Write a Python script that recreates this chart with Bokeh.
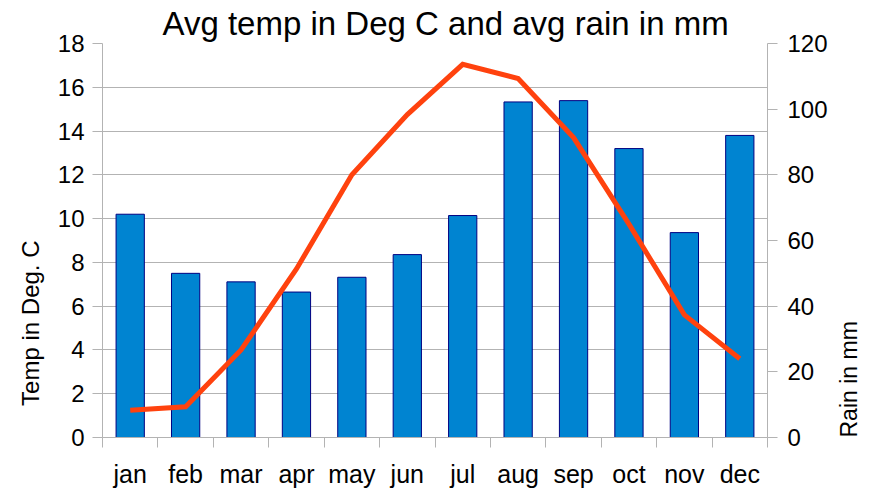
import math
from bokeh.plotting import figure
from bokeh.models import LinearAxis, Range1d, FixedTicker, Title
from bokeh.embed import file_html
from bokeh.resources import INLINE

months = ["jan", "feb", "mar", "apr", "may", "jun", "jul", "aug", "sep", "oct", "nov", "dec"]
rain_mm = [68.0, 50.0, 47.4, 44.3, 48.8, 55.7, 67.6, 102.2, 102.6, 88.0, 62.4, 92.0]
temp_c = [1.25, 1.4, 4.0, 7.7, 12.0, 14.75, 17.05, 16.4, 13.7, 9.75, 5.6, 3.6]
temp_ticks = [0, 2, 4, 6, 8, 10, 12, 14, 16, 18]
rain_ticks = [0, 20, 40, 60, 80, 100, 120]

xs = [i + 0.5 for i in range(len(months))]
bounds = list(range(len(months) + 1))

FONT = "Liberation Sans"
GRID = "#b3b3b3"

p = figure(width=877, height=492, x_range=Range1d(0, len(months)), y_range=Range1d(0, 18),
           output_backend="svg", toolbar_location=None,
           min_border_left=97, min_border_right=105, min_border_top=42, min_border_bottom=55)
p.title = None
p.add_layout(Title(text="Avg temp in Deg C and avg rain in mm", align="left",
                   text_font=FONT, text_font_size="33px", text_font_style="normal",
                   text_color="black", standoff=4, offset=60), "above")
p.extra_y_ranges = {"rain": Range1d(0, 120)}
p.outline_line_color = None
p.background_fill_color = "white"
p.border_fill_color = "white"

p.vbar(x=xs, top=rain_mm, width=0.51, y_range_name="rain",
       fill_color="#0084d1", line_color="#000080", line_width=1)
p.line(x=xs, y=temp_c, line_color="#ff420e", line_width=5, line_join="miter")

# x axis
xa = p.xaxis[0]
xa.ticker = FixedTicker(ticks=xs, minor_ticks=bounds)
xa.major_label_overrides = {x: m for x, m in zip(xs, months)}
xa.major_tick_line_color = None
xa.major_tick_in = 0
xa.major_tick_out = 10
xa.minor_tick_line_color = GRID
xa.minor_tick_in = 0
xa.minor_tick_out = 10
xa.axis_line_color = GRID
xa.major_label_text_font = FONT
xa.major_label_text_font_size = "25px"
xa.major_label_text_color = "black"
xa.major_label_standoff = 12


def style_y(ax, ticks, standoff, label, label_size, label_standoff, l_align, t_align):
    ax.ticker = FixedTicker(ticks=ticks)
    ax.major_label_text_font = FONT
    ax.major_label_text_font_size = "24px"
    ax.major_label_text_color = "black"
    ax.major_label_standoff = standoff
    ax.major_tick_in = 0
    ax.major_tick_out = 10
    ax.major_tick_line_color = GRID
    ax.minor_tick_line_color = None
    ax.axis_line_color = GRID
    ax.axis_label = label
    ax.axis_label_text_font = FONT
    ax.axis_label_text_font_size = label_size
    ax.axis_label_text_font_style = "normal"
    ax.axis_label_text_color = "black"
    ax.axis_label_standoff = label_standoff
    props = ax.properties()
    # read bottom-to-top, placed below the middle of the axis like the reference
    if "axis_label_orientation" in props:
        ax.axis_label_orientation = math.pi / 2
    if "axis_label_align" in props:
        ax.axis_label_align = l_align
    ax.axis_label_text_align = t_align


style_y(p.yaxis[0], temp_ticks, 8, "Temp in Deg. C", "24px", 24, "center", "right")

ra = LinearAxis(y_range_name="rain")
style_y(ra, rain_ticks, 10, "Rain in mm", "23px", 18, "start", "left")
p.add_layout(ra, "right")

p.xgrid.grid_line_color = None
p.ygrid.ticker = FixedTicker(ticks=temp_ticks)
p.ygrid.grid_line_color = GRID
p.ygrid.grid_line_width = 1

open("out.html", "w").write(file_html(p, INLINE))
